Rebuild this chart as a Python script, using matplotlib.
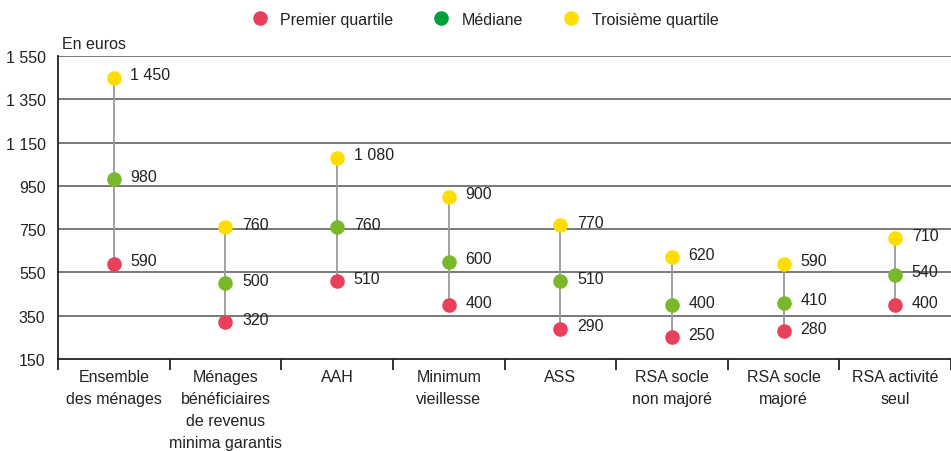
import matplotlib.pyplot as plt
from matplotlib.lines import Line2D

plt.rcParams['font.family'] = ['Liberation Sans', 'DejaVu Sans']

# Data
categories = ["Ensemble\ndes ménages",
              "Ménages\nbénéficiaires\nde revenus\nminima garantis",
              "AAH",
              "Minimum\nvieillesse",
              "ASS",
              "RSA socle\nnon majoré",
              "RSA socle\nmajoré",
              "RSA activité\nseul"]
q1 = [590, 320, 510, 400, 290, 250, 280, 400]
median = [980, 500, 760, 600, 510, 400, 410, 540]
q3 = [1450, 760, 1080, 900, 770, 620, 590, 710]
y_ticks = [150, 350, 550, 750, 950, 1150, 1350, 1550]

red = "#e8405a"
green = "#78b82a"
green_legend = "#00a03c"
yellow = "#ffdd00"
txt = "#222222"


def fmt(v):
    return f"{v:,}".replace(",", " ")


fig = plt.figure(figsize=(9.51, 4.52), dpi=100)
ax = fig.add_axes([0.061, 0.2035, 0.939, 0.6705])

x = [i + 0.5 for i in range(len(categories))]

# grid
for yt in y_ticks[1:]:
    ax.axhline(yt, color="#555555", linewidth=1.1, zorder=1)

# stems
ax.vlines(x, q1, q3, color="#9a9a9a", linewidth=1.3, zorder=2)

ms = 10.5
ax.plot(x, q1, "o", color=red, markersize=ms, markeredgewidth=0, zorder=3)
ax.plot(x, median, "o", color=green, markersize=ms, markeredgewidth=0, zorder=3)
ax.plot(x, q3, "o", color=yellow, markersize=ms, markeredgewidth=0, zorder=3)

for xi, a, b, c in zip(x, q1, median, q3):
    for v in (a, b, c):
        ax.annotate(fmt(v), (xi, v), xytext=(12, 2), textcoords="offset points",
                    ha="left", va="center", fontsize=11.5, color=txt)

ax.set_xlim(0, len(categories))
ax.set_ylim(150, 1550)
ax.set_yticks(y_ticks)
ax.set_yticklabels([fmt(v) for v in y_ticks], fontsize=11.5, color=txt)
ax.tick_params(axis="y", length=0, pad=9)

ax.set_xticks(x)
ax.set_xticklabels(categories, fontsize=11.5, color=txt, linespacing=1.6)
ax.tick_params(axis="x", which="major", length=0, pad=7)
ax.set_xticks(range(len(categories) + 1), minor=True)
ax.tick_params(axis="x", which="minor", length=8, width=1.3, direction="out", color=txt)

for s in ["top", "right"]:
    ax.spines[s].set_visible(False)
for s in ["left", "bottom"]:
    ax.spines[s].set_linewidth(1.3)
    ax.spines[s].set_color(txt)

fig.text(0.065, 0.902, "En euros", fontsize=11.5, color=txt, ha="left", va="center")

handles = [Line2D([], [], marker="o", linestyle="", color=red, markersize=ms, markeredgewidth=0),
           Line2D([], [], marker="o", linestyle="", color=green_legend, markersize=ms, markeredgewidth=0),
           Line2D([], [], marker="o", linestyle="", color=yellow, markersize=ms, markeredgewidth=0)]
fig.legend(handles, ["Premier quartile", "Médiane", "Troisième quartile"],
           loc="center", bbox_to_anchor=(0.506, 0.955), ncol=3, frameon=False,
           fontsize=11.5, handletextpad=0.3, columnspacing=2.0, labelcolor=txt)

plt.savefig("out.png", dpi=100)
plt.close()
